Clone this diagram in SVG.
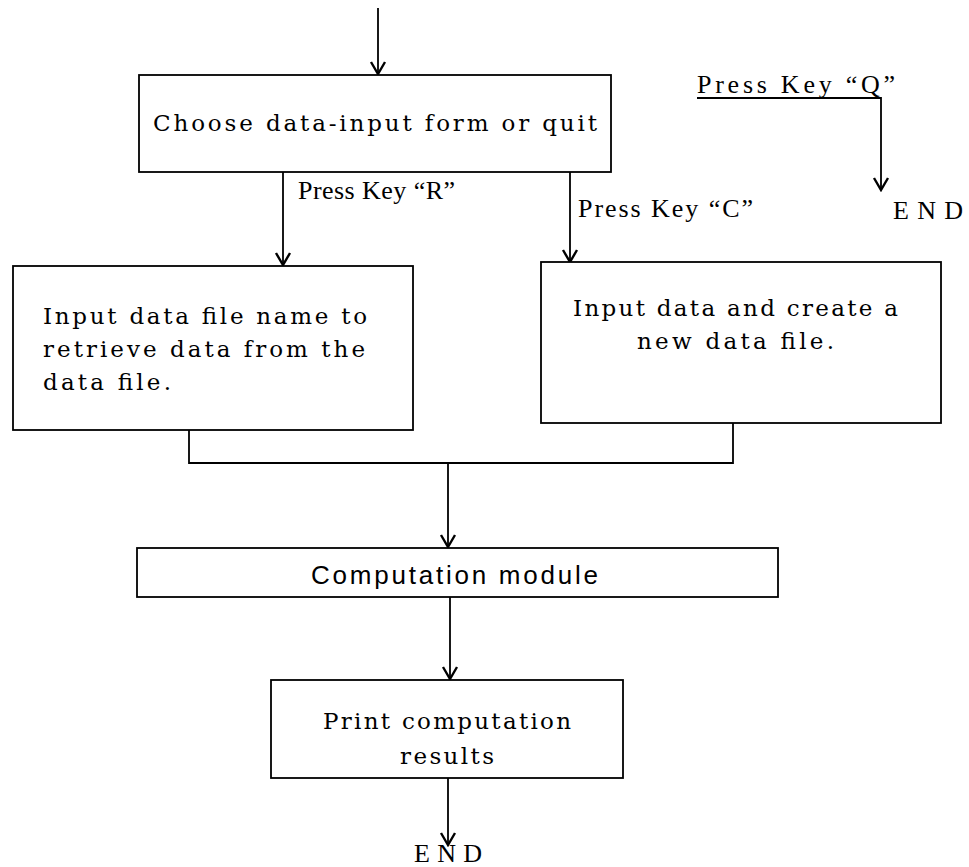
<svg xmlns="http://www.w3.org/2000/svg" width="969" height="867" viewBox="0 0 969 867">
<style>
.box{fill:#fff;stroke:#000;stroke-width:1.8}
.ln{fill:none;stroke:#000;stroke-width:1.8}
.t{font-family:"DejaVu Serif","Liberation Serif",serif;font-size:23px;fill:#000}
.lbl{font-family:"Liberation Serif",serif;font-size:26px;fill:#000}
.sans{font-family:"Liberation Sans",Arial,sans-serif;font-size:26px;fill:#000}
</style>
<defs>
<marker id="arr" viewBox="-14 -9 16 18" refX="0" refY="0" markerWidth="16" markerHeight="18" orient="auto" markerUnits="userSpaceOnUse">
<path d="M-12,-7 L0,0 L-12,7" fill="none" stroke="#000" stroke-width="2.4"/>
</marker>
</defs>
<rect width="969" height="867" fill="#fff"/>
<g id="connectors">
<line class="ln" x1="378" y1="8" x2="378" y2="74" marker-end="url(#arr)"/>
<line class="ln" x1="283" y1="172" x2="283" y2="265" marker-end="url(#arr)"/>
<line class="ln" x1="570" y1="172" x2="570" y2="262" marker-end="url(#arr)"/>
<polyline class="ln" points="697,98 881,98 881,190" marker-end="url(#arr)"/>
<polyline class="ln" points="189,430 189,463 733,463 733,423"/>
<line class="ln" x1="448" y1="463" x2="448" y2="547" marker-end="url(#arr)"/>
<line class="ln" x1="450" y1="597" x2="450" y2="679" marker-end="url(#arr)"/>
<line class="ln" x1="448" y1="778" x2="448" y2="845" marker-end="url(#arr)"/>
</g>
<g id="choose">
<rect class="box" x="139" y="75" width="472" height="97"/>
<text class="t" x="153" y="131" textLength="444" lengthAdjust="spacing">Choose data-input form or quit</text>
</g>
<g id="labelQ">
<text class="lbl" x="697" y="93" textLength="198" lengthAdjust="spacing">Press Key “Q”</text>
</g>
<g id="end1">
<text class="lbl" x="893" y="219" textLength="70" lengthAdjust="spacing">END</text>
</g>
<g id="labelR">
<text class="lbl" x="298" y="199" textLength="157" lengthAdjust="spacing">Press Key “R”</text>
</g>
<g id="labelC">
<text class="lbl" x="578" y="217" textLength="175" lengthAdjust="spacing">Press Key “C”</text>
</g>
<g id="retrieve">
<rect class="box" x="13" y="266" width="400" height="164"/>
<text class="t" x="43" y="324" textLength="324" lengthAdjust="spacing">Input data file name to</text>
<text class="t" x="43" y="357" textLength="322" lengthAdjust="spacing">retrieve data from the</text>
<text class="t" x="43" y="390" textLength="128" lengthAdjust="spacing">data file.</text>
</g>
<g id="create">
<rect class="box" x="541" y="262" width="400" height="161"/>
<text class="t" x="573" y="316" textLength="325" lengthAdjust="spacing">Input data and create a</text>
<text class="t" x="637" y="349" textLength="197" lengthAdjust="spacing">new data file.</text>
</g>
<g id="computation">
<rect class="box" x="137" y="548" width="641" height="49"/>
<text class="sans" x="311" y="584" textLength="287" lengthAdjust="spacing">Computation module</text>
</g>
<g id="print">
<rect class="box" x="271" y="680" width="352" height="98"/>
<text class="t" x="323" y="729" textLength="248" lengthAdjust="spacing">Print computation</text>
<text class="t" x="400" y="764" textLength="94" lengthAdjust="spacing">results</text>
</g>
<g id="end2">
<text class="lbl" x="448" y="862" text-anchor="middle" textLength="68" lengthAdjust="spacing">END</text>
</g>
</svg>
